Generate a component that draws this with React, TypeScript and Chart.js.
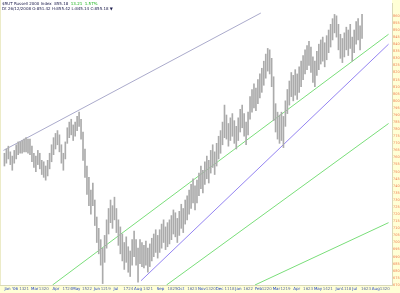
import React, { useEffect, useRef } from 'react';
import { Chart, registerables } from 'chart.js';

Chart.register(...registerables);

// ---- data (trading-day slots from the left edge; prices in index points) ----
const barStep = 2;
const highs = [
  763, 766, 768, 764, 761, 765, 769, 771, 771, 772, 773, 774, 773, 773, 768, 763, 761, 765, 763, 758,
  757, 754, 758, 763, 769, 774, 777, 779, 776, 769, 763, 771, 781, 785, 787, 783, 785, 789, 792, 787,
  778, 766, 754, 746, 737, 742, 730, 718, 710, 702, 696, 705, 716, 724, 730, 726, 732, 724, 716, 711,
  706, 700, 704, 697, 694, 702, 708, 702, 696, 702, 700, 698, 701, 696, 699, 703, 706, 709, 705, 709,
  713, 716, 711, 714, 716, 719, 723, 721, 717, 722, 727, 724, 730, 733, 737, 741, 745, 740, 744, 749,
  754, 751, 757, 761, 758, 765, 769, 764, 770, 775, 779, 785, 797, 790, 784, 788, 791, 786, 782, 788,
  794, 797, 791, 785, 792, 803, 808, 812, 809, 815, 819, 823, 828, 833, 837, 836, 830, 817, 798, 792,
  790, 792, 789, 800, 808, 814, 820, 818, 822, 819, 824, 828, 832, 836, 839, 842, 838, 831, 828, 835,
  840, 843, 845, 841, 846, 850, 854, 858, 861, 860, 854, 847, 844, 848, 852, 850, 854, 845, 850, 856,
  858, 853, 861,
];
const lows = [
  754, 756, 759, 755, 751, 756, 759, 762, 763, 763, 764, 764, 763, 762, 757, 753, 750, 755, 752, 748,
  746, 744, 747, 752, 757, 762, 766, 769, 764, 756, 751, 759, 770, 774, 776, 772, 775, 779, 782, 773,
  758, 746, 734, 726, 720, 726, 712, 700, 692, 684, 671, 686, 696, 706, 714, 710, 716, 707, 698, 692,
  687, 681, 686, 679, 676, 684, 690, 684, 672, 685, 683, 682, 684, 679, 683, 687, 690, 693, 689, 693,
  696, 700, 695, 697, 699, 702, 706, 704, 700, 705, 710, 707, 713, 716, 720, 724, 728, 723, 728, 733,
  738, 735, 741, 745, 742, 749, 753, 748, 754, 759, 763, 769, 774, 773, 768, 772, 775, 770, 766, 772,
  778, 781, 775, 769, 776, 787, 792, 795, 793, 798, 802, 806, 811, 816, 821, 819, 810, 786, 778, 773,
  770, 772, 767, 782, 791, 797, 803, 800, 804, 801, 806, 810, 815, 819, 822, 825, 820, 813, 810, 818,
  822, 826, 828, 824, 829, 834, 838, 843, 848, 845, 836, 830, 827, 831, 836, 832, 837, 828, 834, 840,
  843, 836, 844,
];

// trend lines: [slot, price] end points
const grayLineX = [0, 262];
const grayLineY = [765, 862];
const purpleLineX = [140, 392];
const purpleLineY = [673, 840];
const green1X = [50, 392];
const green1Y = [670, 847];
const green2X = [166, 392];
const green2Y = [670, 784];
const green3X = [256, 392];
const green3Y = [670, 714];

const yTickValues = [
  670, 675, 680, 685, 690, 695, 700, 705, 710, 715, 720, 725, 730, 735, 740, 745, 750, 755, 760, 765,
  770, 775, 780, 785, 790, 795, 800, 805, 810, 815, 820, 825, 830, 835, 840, 845, 850, 855, 860,
];
const xTickSlots = [
  1, 16, 21, 28, 36, 41, 50, 60, 65, 70, 80, 85, 92, 99, 104, 112, 122, 127, 133, 142, 147,
  156, 167, 172, 177, 187, 192, 198, 206, 211, 216, 225, 230, 236, 244, 249, 256, 263, 268,
  274, 282, 287, 295, 305, 310, 316, 325, 330, 338, 344, 349, 355, 364, 369, 375, 383, 388,
];
const xTickLabels = [
  "Jan '06", '13', '21', 'Mar', '13', '20', 'Apr', '17', '24', 'May', '15', '22', 'Jun', '12', '19',
  'Jul', '17', '24', 'Aug', '14', '21', 'Sep', '18', '25', 'Oct', '16', '23', 'Nov', '13', '20',
  'Dec', '11', '18', 'Jan', '16', '22', 'Feb', '12', '20', 'Mar', '12', '19', 'Apr', '16', '23',
  'May', '14', '21', 'Jun', '11', '18', 'Jul', '16', '23', 'Aug', '13', '20',
];

const titleMain = '$RUT Russell 2000 Index';
const titleLast = '855.18';
const titleChange = '13.21';
const titlePct = '1.57%';
const titleLine2 = 'Dt 26/12/2008 O:851.42 H:855.42 L:845.14 C:855.18 \u25BC';

const months = new Set(['Jan', 'Feb', 'Mar', 'Apr', 'May', 'Jun', 'Jul', 'Aug', 'Sep', 'Oct', 'Nov', 'Dec', "Jan '06"]);

function pts(xs: number[], ys: number[]) {
  return xs.map((x, i) => ({ x, y: ys[i] }));
}

const framePlugin = {
  id: 'frame',
  beforeDraw(chart: any) {
    const { ctx, chartArea, width, height } = chart;
    ctx.save();
    ctx.fillStyle = '#ffffff';
    ctx.fillRect(0, 0, width, height);
    ctx.fillStyle = '#ffffd6';
    ctx.fillRect(chartArea.right, 0, width - chartArea.right, height);
    ctx.fillRect(0, chartArea.bottom, width, height - chartArea.bottom);
    ctx.fillStyle = '#ecebc8';
    ctx.fillRect(0, 0, 1, chartArea.bottom);
    ctx.restore();
  },
  afterDraw(chart: any) {
    const { ctx } = chart;
    ctx.save();
    ctx.font = '4px "DejaVu Sans"';
    ctx.textBaseline = 'alphabetic';
    ctx.textAlign = 'left';
    let x = 2;
    ctx.fillStyle = '#1a1a4a';
    const first = titleMain + '  ' + titleLast + '  ';
    ctx.fillText(first, x, 5);
    x += ctx.measureText(first).width;
    ctx.fillStyle = '#10b010';
    ctx.fillText(titleChange + '  ' + titlePct, x, 5);
    ctx.fillStyle = '#1a1a4a';
    ctx.fillText(titleLine2, 2, 10);
    ctx.restore();
  },
};

export default function App() {
  const ref = useRef<HTMLCanvasElement | null>(null);
  useEffect(() => {
    document.body.style.margin = '0';
    const canvas = ref.current;
    if (!canvas) return;
    const barData = highs.map((h, i) => ({ x: i * barStep + 1, y: [lows[i], h] }));
    const lineDs = (data: any[], color: string) => ({
      type: 'line' as const,
      data,
      borderColor: color,
      borderWidth: 1,
      pointRadius: 0,
      fill: false,
      order: 2,
    });
    const chart = new Chart(canvas, {
      type: 'bar',
      data: {
        datasets: [
          {
            type: 'bar',
            data: barData as any,
            backgroundColor: '#ababab',
            borderWidth: 0,
            barThickness: 1,
            order: 1,
          } as any,
          lineDs(pts(grayLineX, grayLineY), '#ababcc'),
          lineDs(pts(purpleLineX, purpleLineY), '#9484f2'),
          lineDs(pts(green1X, green1Y), '#7ade7a'),
          lineDs(pts(green2X, green2Y), '#7ade7a'),
          lineDs(pts(green3X, green3Y), '#7ade7a'),
        ],
      },
      options: {
        responsive: false,
        animation: false,
        devicePixelRatio: 1,
        layout: { padding: 0 },
        plugins: {
          legend: { display: false },
          tooltip: { enabled: false },
          title: { display: false },
        },
        scales: {
          x: {
            type: 'linear',
            min: 0,
            max: 392,
            position: 'bottom',
            grid: { display: false, drawTicks: false, tickLength: 0 },
            border: { display: true, color: '#d9d9b8' },
            afterBuildTicks: (s: any) => {
              s.ticks = xTickSlots.map((v) => ({ value: v }));
            },
            afterFit: (s: any) => {
              s.height = 8;
            },
            ticks: {
              autoSkip: false,
              maxRotation: 0,
              minRotation: 0,
              align: 'start',
              padding: 2,
              font: { size: 4, family: 'DejaVu Sans' },
              color: (c: any) => (months.has(xTickLabels[c.index]) ? '#2040c0' : '#6070a8'),
              callback: (_v: any, i: number) => xTickLabels[i],
            },
          },
          y: {
            type: 'linear',
            position: 'right',
            min: 670,
            max: 869,
            grid: { display: false, drawTicks: false, tickLength: 0 },
            border: { display: true, color: '#d9d9b8' },
            afterBuildTicks: (s: any) => {
              s.ticks = yTickValues.map((v) => ({ value: v }));
            },
            afterFit: (s: any) => {
              s.width = 8;
            },
            ticks: {
              autoSkip: false,
              padding: 1,
              font: { size: 3.5, family: 'DejaVu Sans' },
              color: '#f07a50',
              callback: (v: any) => String(v),
            },
          },
        },
      } as any,
      plugins: [framePlugin],
    });
    return () => chart.destroy();
  }, []);
  return (
    <div style={{ position: 'absolute', left: 0, top: 0, width: 400, height: 293 }}>
      <canvas ref={ref} width={400} height={293} style={{ display: 'block', width: 400, height: 293 }} />
    </div>
  );
}
